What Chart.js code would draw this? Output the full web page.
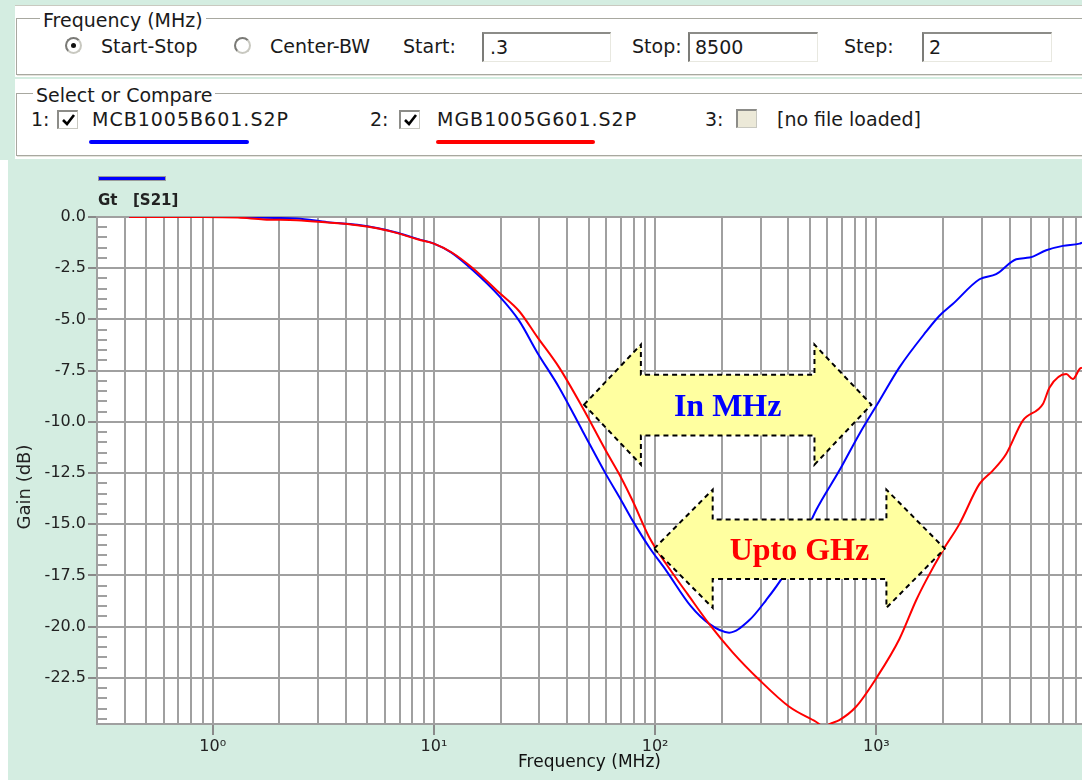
<!DOCTYPE html>
<html lang="en">
<head>
  <meta charset="UTF-8">
  <title>Gt [S21]</title>
  <script src="https://cdn.jsdelivr.net/npm/chart.js"></script>
  <style>
    html, body {
      margin: 0;
      padding: 0;
    }

    body {
      width: 1082px;
      height: 780px;
      overflow: hidden;
      position: relative;
      background: #fff;
      font-family: "DejaVu Sans", sans-serif;
      color: #1a1a1a;
    }

    .abs { position: absolute; }

    #topbg { left: 0; top: 0; width: 1082px; height: 160px; background: #d4ede1; }
    .panel { background: #fff; }
    .group { border: 1px solid #a8a8a0; box-shadow: 1px 1px 0 #e4e4dc; }

    .txt { font-size: 19px; line-height: 22px; white-space: nowrap; }
    .legend { background: #fff; padding: 0 3px; }
    .wide { letter-spacing: 1px; }

    .input {
      box-sizing: border-box;
      height: 30px;
      background: #fff;
      border-top: 2px solid #8c8c88;
      border-left: 2px solid #7c7c78;
      border-right: 1px solid #e8e8e0;
      border-bottom: 1px solid #e8e8e0;
    }

    .radio {
      box-sizing: border-box;
      width: 17px;
      height: 17px;
      border-radius: 50%;
      border: 2px solid;
      border-color: #7a7a76 #c8c8c0 #c8c8c0 #7a7a76;
      background: #fff;
    }
    .dot { left: 4px; top: 4px; width: 5px; height: 5px; border-radius: 50%; background: #111; }

    .check {
      box-sizing: border-box;
      width: 21px;
      height: 19px;
      border-top: 2px solid #8c8c88;
      border-left: 2px solid #8c8c88;
      border-right: 1px solid #c8c8c0;
      border-bottom: 1px solid #c8c8c0;
      background: #fff;
    }
    .check svg { position: absolute; left: 1px; top: 0; }

    .uline { height: 4px; border-radius: 2px; }

    #chartBox { left: 8px; top: 160px; width: 1074px; height: 620px; background: #d4ede1; }
  </style>
</head>
<body>
<!-- top control panel -->
<div class="abs" id="topbg"></div>
<div class="abs panel" style="left:15px;top:5px;width:1067px;height:71px;border-top:1px solid #c9c9c0"></div>
<div class="abs panel" style="left:15px;top:79px;width:1067px;height:80px"></div>
<div class="abs group" style="left:16px;top:18px;width:1080px;height:55px"></div>
<div class="abs group" style="left:16px;top:93px;width:1080px;height:61px"></div>

<div class="abs txt legend" style="left:40px;top:9px">Frequency (MHz)</div>
<div class="abs radio" style="left:65px;top:37px"><div class="abs dot"></div></div>
<div class="abs txt" style="left:101px;top:35px">Start-Stop</div>
<div class="abs radio" style="left:234px;top:37px"></div>
<div class="abs txt" style="left:270px;top:35px">Center-BW</div>
<div class="abs txt" style="left:403px;top:35px">Start:</div>
<div class="abs input" style="left:482px;top:32px;width:129px"></div>
<div class="abs txt" style="left:490px;top:36px">.3</div>
<div class="abs txt" style="left:632px;top:35px">Stop:</div>
<div class="abs input" style="left:688px;top:32px;width:130px"></div>
<div class="abs txt" style="left:695px;top:36px">8500</div>
<div class="abs txt" style="left:844px;top:35px">Step:</div>
<div class="abs input" style="left:922px;top:32px;width:130px"></div>
<div class="abs txt" style="left:929px;top:36px">2</div>

<div class="abs txt legend" style="left:33px;top:84px">Select or Compare</div>
<div class="abs txt" style="left:31px;top:108px">1:</div>
<div class="abs check" style="left:57px;top:110px">
  <svg width="17" height="16"><polyline points="3,8 7,12 14,3" fill="none" stroke="#000" stroke-width="2.6"/></svg>
</div>
<div class="abs txt wide" style="left:92px;top:108px">MCB1005B601.S2P</div>
<div class="abs uline" style="left:89px;top:140px;width:160px;background:#0000ff"></div>
<div class="abs txt" style="left:370px;top:108px">2:</div>
<div class="abs check" style="left:399px;top:110px">
  <svg width="17" height="16"><polyline points="3,8 7,12 14,3" fill="none" stroke="#000" stroke-width="2.6"/></svg>
</div>
<div class="abs txt wide" style="left:437px;top:108px">MGB1005G601.S2P</div>
<div class="abs uline" style="left:436px;top:140px;width:159px;background:#ff0000"></div>
<div class="abs txt" style="left:705px;top:108px">3:</div>
<div class="abs check" style="left:736px;top:109px;background:#ece9d8"></div>
<div class="abs txt" style="left:777px;top:108px">[no file loaded]</div>

<!-- Gt [S21] plot -->
<div class="abs" id="chartBox">
  <canvas id="gainChart" width="1074" height="620"></canvas>
</div>

<script>
  // MCB1005B601 (blue), frequency in MHz, gain in dB
  const freqBlue = [0.42, 0.6, 0.9, 1.3, 1.7, 2.4, 3.3, 4.5, 5.6, 6.9, 8.5, 10, 12, 15, 19.7, 24.3, 29.3, 36.8,
    46.9, 59.8, 70, 79, 94, 112, 145, 175, 216, 266, 317, 377, 448, 533, 680, 838, 1032, 1271, 1678, 1928,
    2214, 2925, 3477, 4285, 4920, 5858, 6966, 8290, 8500];
  const gainBlue = [0, 0, 0, 0, -0.04, -0.07, -0.25, -0.38, -0.55, -0.78, -1.08, -1.3, -1.74, -2.6, -3.85,
    -5.07, -6.61, -8.32, -10.43, -12.54, -13.8, -14.81, -16.12, -17.25, -19.0, -19.85, -20.29, -19.69,
    -18.71, -17.58, -16.12, -14.33, -12.38, -10.59, -8.97, -7.34, -5.6, -4.82, -4.25, -3.04, -2.79,
    -2.06, -1.98, -1.62, -1.41, -1.30, -1.25];

  // MGB1005G601 (red)
  const freqRed = [0.42, 0.6, 0.9, 1.3, 1.7, 2.4, 3.3, 4.5, 5.6, 6.9, 8.5, 10, 12, 15, 19.7, 24.3, 29.3, 36.8,
    46.9, 59.8, 70, 79, 94, 112, 140, 175, 224, 296, 404, 533, 575, 631, 680, 809, 997, 1271, 1513, 1678,
    1996, 2375, 2925, 3358, 3860, 4591, 5658, 6066, 7216, 7730, 8290, 8500];
  const gainRed = [0, 0, 0, -0.03, -0.12, -0.16, -0.27, -0.4, -0.56, -0.8, -1.1, -1.3, -1.72, -2.5, -3.69,
    -4.6, -5.85, -7.34, -9.29, -11.4, -12.7, -13.84, -15.63, -16.93, -18.4, -19.85, -21.25, -22.6, -23.91,
    -24.64, -24.85, -24.7, -24.56, -23.91, -22.53, -20.6, -18.71, -17.74, -16.28, -14.98, -13.03, -12.38,
    -11.57, -9.94, -9.13, -8.32, -7.67, -7.91, -7.42, -7.35];

  // axes
  const gainTicks = [0, -2.5, -5, -7.5, -10, -12.5, -15, -17.5, -20, -22.5];
  const decades = [1, 10, 100, 1000];
  const decadeLabels = ['10⁰', '10¹', '10²', '10³'];
  const mantissas = [1, 2, 3, 4, 5, 6, 7, 8, 9];
  const exponents = [-1, 0, 1, 2, 3];

  // yellow call-out arrows (data coordinates: MHz / dB)
  const callouts = [
    { text: 'In MHz', color: '#0000ff', tips: [47.7, 949], necks: [86.2, 525], mid: -9.16,
      shaft: [-7.70, -10.67], head: [-6.23, -12.09] },
    { text: 'Upto GHz', color: '#ff0000', tips: [98.9, 2037], necks: [182, 1110], mid: -16.19,
      shaft: [-14.77, -17.67], head: [-13.31, -19.08] }
  ];

  const xMin = 0.3, xMax = 8500;
  const xGrid = [];
  exponents.forEach(e => mantissas.forEach(m => {
    const v = Number((m * Math.pow(10, e)).toPrecision(3));
    if (v > 0.31 && v <= xMax) xGrid.push(v);
  }));
  const decadeIndex = v => decades.findIndex(d => Math.abs(d - v) < 1e-9);

  const toPoints = (xs, ys) => xs.map((x, i) => ({ x: x, y: ys[i] }));

  const plotDecor = {
    id: 'plotDecor',
    beforeDraw(chart) {
      const a = chart.chartArea, ctx = chart.ctx;
      ctx.save();
      ctx.fillStyle = '#ffffff';
      ctx.fillRect(a.left, a.top, a.right - a.left, a.bottom - a.top);
      ctx.restore();
    },
    beforeDatasetsDraw(chart) {
      // small 0.5 dB ticks inside the left axis
      const a = chart.chartArea, ctx = chart.ctx, y = chart.scales.y;
      ctx.save();
      ctx.strokeStyle = '#a0a0a0';
      ctx.lineWidth = 2;
      for (let k = 1; k < 50; k++) {
        if (k % 5 === 0) continue;
        const py = Math.round(y.getPixelForValue(-k * 0.5));
        ctx.beginPath();
        ctx.moveTo(a.left, py);
        ctx.lineTo(a.left + 10, py);
        ctx.stroke();
      }
      ctx.restore();
    },
    afterDatasetsDraw(chart) {
      const ctx = chart.ctx, xs = chart.scales.x, ys = chart.scales.y;
      callouts.forEach(c => {
        const xL = xs.getPixelForValue(c.tips[0]), xR = xs.getPixelForValue(c.tips[1]);
        const n1 = xs.getPixelForValue(c.necks[0]), n2 = xs.getPixelForValue(c.necks[1]);
        const yM = ys.getPixelForValue(c.mid);
        const sT = ys.getPixelForValue(c.shaft[0]), sB = ys.getPixelForValue(c.shaft[1]);
        const hT = ys.getPixelForValue(c.head[0]), hB = ys.getPixelForValue(c.head[1]);
        ctx.save();
        ctx.beginPath();
        ctx.moveTo(xL, yM);
        ctx.lineTo(n1, hT);
        ctx.lineTo(n1, sT);
        ctx.lineTo(n2, sT);
        ctx.lineTo(n2, hT);
        ctx.lineTo(xR, yM);
        ctx.lineTo(n2, hB);
        ctx.lineTo(n2, sB);
        ctx.lineTo(n1, sB);
        ctx.lineTo(n1, hB);
        ctx.closePath();
        ctx.fillStyle = '#ffffa0';
        ctx.fill();
        ctx.setLineDash([5, 4]);
        ctx.lineWidth = 2;
        ctx.strokeStyle = '#000';
        ctx.stroke();
        ctx.setLineDash([]);
        ctx.fillStyle = c.color;
        ctx.font = 'bold 32px "Liberation Serif", "Times New Roman", serif';
        ctx.textAlign = 'center';
        ctx.textBaseline = 'alphabetic';
        ctx.fillText(c.text, (xL + xR) / 2, yM + 11.5);
        ctx.restore();
      });
    },
    afterDraw(chart) {
      const a = chart.chartArea, ctx = chart.ctx;
      ctx.save();
      // trace legend
      ctx.fillStyle = '#9a9a9a';
      ctx.fillRect(a.left + 1, 16, 68, 5);
      ctx.fillStyle = chart.data.datasets[1].borderColor;
      ctx.fillRect(a.left + 2, 17, 66, 3);
      ctx.fillStyle = '#222';
      ctx.font = 'bold 15px "DejaVu Sans"';
      ctx.textBaseline = 'alphabetic';
      ctx.fillText('Gt', a.left + 1, 44.5);
      ctx.fillText('[S21]', a.left + 36, 44.5);
      // y axis title
      ctx.translate(17, 327);
      ctx.rotate(-Math.PI / 2);
      ctx.font = '18px "DejaVu Sans"';
      ctx.textAlign = 'center';
      ctx.textBaseline = 'middle';
      ctx.fillText('Gain (dB)', 0, 0);
      ctx.restore();
    }
  };

  const ctxGain = document.getElementById('gainChart').getContext('2d');
  new Chart(ctxGain, {
    type: 'line',
    data: {
      datasets: [{
        label: 'MGB1005G601.S2P',
        data: toPoints(freqRed, gainRed),
        borderColor: '#ff0000',
        borderWidth: 2,
        pointRadius: 0,
        cubicInterpolationMode: 'monotone',
        order: 0
      }, {
        label: 'MCB1005B601.S2P',
        data: toPoints(freqBlue, gainBlue),
        borderColor: '#0000ff',
        borderWidth: 2,
        pointRadius: 0,
        cubicInterpolationMode: 'monotone',
        order: 1
      }]
    },
    options: {
      responsive: false,
      animation: false,
      devicePixelRatio: 1,
      layout: { padding: { top: 57, left: 0, right: 0, bottom: 0 } },
      plugins: { legend: { display: false }, tooltip: { enabled: false } },
      scales: {
        x: {
          type: 'logarithmic',
          min: xMin,
          max: xMax,
          afterBuildTicks: s => { s.ticks = xGrid.map(v => ({ value: v })); },
          afterFit: s => { s.height = 56; },
          grid: {
            color: '#a0a0a0',
            lineWidth: 2,
            tickLength: 11,
            tickColor: c => (c.tick && decadeIndex(c.tick.value) >= 0) ? '#8a8a8a' : 'rgba(0,0,0,0)'
          },
          border: { color: '#a0a0a0', width: 2 },
          ticks: {
            autoSkip: false,
            maxRotation: 0,
            padding: 2,
            color: '#222',
            font: { family: 'DejaVu Sans', size: 16 },
            callback: v => { const i = decadeIndex(v); return i >= 0 ? decadeLabels[i] : ''; }
          },
          title: {
            display: true,
            text: 'Frequency (MHz)',
            color: '#111',
            font: { family: 'DejaVu Sans', size: 17 },
            padding: { top: 0, bottom: 7 }
          }
        },
        y: {
          min: -24.75,
          max: 0,
          afterBuildTicks: s => { s.ticks = gainTicks.map(v => ({ value: v })); },
          afterFit: s => { s.width = 89; },
          grid: { color: '#a0a0a0', lineWidth: 2, tickLength: 9, tickColor: '#8a8a8a' },
          border: { color: '#a0a0a0', width: 2 },
          ticks: {
            padding: 2,
            color: '#222',
            font: { family: 'DejaVu Sans', size: 16 },
            callback: v => v.toFixed(1)
          }
        }
      }
    },
    plugins: [plotDecor]
  });
</script>
</body>
</html>
